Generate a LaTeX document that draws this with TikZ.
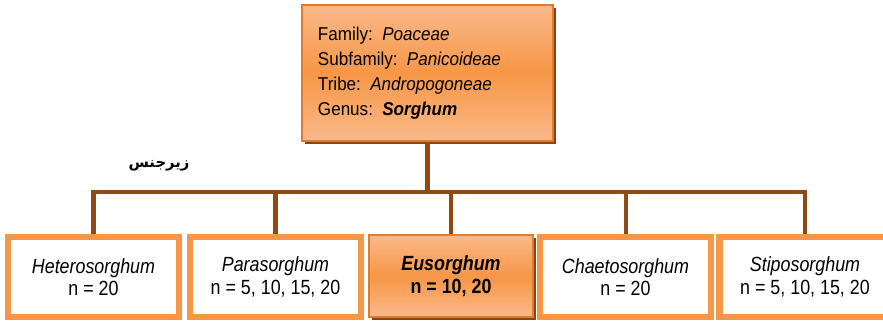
\documentclass[tikz,border=0pt]{standalone}
\usepackage{fontspec}
\setmainfont{Liberation Sans}
\newfontfamily\narrowfont{Liberation Sans}[FakeStretch=0.87]
\newfontfamily\topfont{Liberation Sans}[FakeStretch=0.92]
\newfontfamily\arabicfont[Script=Arabic]{DejaVu Sans}
\TeXXeTstate=1
\usetikzlibrary{shadows}
\definecolor{orangeline}{HTML}{F79646}
\definecolor{orangedark}{HTML}{E07A2E}
\definecolor{orangelight}{HTML}{FAB98A}
\definecolor{brownline}{HTML}{8E4A12}
\definecolor{shadowbrown}{HTML}{8A4410}

\begin{document}
\begin{tikzpicture}[x=0.025cm,y=-0.025cm,
  link/.style={brownline,line width=2.85pt,line join=miter},
  orangebox/.style={draw=orangedark,line width=0.9pt,top color=orangelight,bottom color=orangelight,middle color=orangeline,
    drop shadow={shadow xshift=2.2pt,shadow yshift=-2.2pt,fill=shadowbrown,opacity=1}},
  leafbox/.style={draw=orangeline,line width=4.3pt,fill=white,minimum width=4.275cm,minimum height=2cm,
    align=center,inner sep=0pt,font=\narrowfont\fontsize{14.6}{16}\selectfont}]
\useasboundingbox (0,0) rectangle (883,322);
% taxonomy of the genus
\node[orangebox,minimum width=6.275cm,minimum height=3.4cm,text width=5.475cm,align=left,inner sep=0pt,
  font=\topfont\fontsize{13.2}{17.9}\selectfont] (top) at (427.5,73)
  {Family: \textit{Poaceae}\\Subfamily: \textit{Panicoideae}\\Tribe: \textit{Andropogoneae}\\Genus: \textbf{\textit{Sorghum}}};
\node[font=\arabicfont\bfseries\fontsize{10.5}{12}\selectfont] (subgenus) at (159,166) {\beginR زیرجنس\endR};
% the five subgenera
\node[leafbox] (hetero) at (93.5,277) {\textit{Heterosorghum}\\n = 20};
\node[leafbox] (para) at (275.5,277) {\textit{Parasorghum}\\n = 5, 10, 15, 20};
\node[orangebox,minimum width=4.1cm,minimum height=2.05cm,align=center,inner sep=0pt,
  font=\narrowfont\fontsize{14.6}{16}\selectfont\bfseries] (eu) at (451,276) {\textit{Eusorghum}\\n = 10, 20};
\node[leafbox] (chaeto) at (625.5,277) {\textit{Chaetosorghum}\\n = 20};
\node[leafbox] (stipo) at (805,277) {\textit{Stiposorghum}\\n = 5, 10, 15, 20};
% connectors
\coordinate (hub) at (427.5,192);
\draw[link] (top.south) -- (hub);
\foreach \sub in {hetero,para,eu,chaeto,stipo}
  \draw[link] (hub) -| (\sub.north);
\end{tikzpicture}
\end{document}
